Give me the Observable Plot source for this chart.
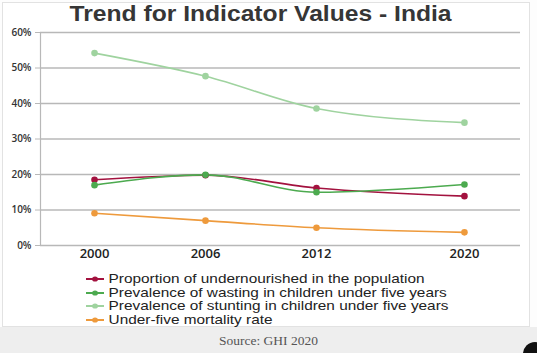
<!DOCTYPE html>
<html><head><meta charset="utf-8">
<script src="https://cdn.jsdelivr.net/npm/d3@7"></script>
<script src="https://cdn.jsdelivr.net/npm/@observablehq/plot@0.6"></script>
<style>
html,body{margin:0;padding:0;background:#fff;}
#wrap{position:relative;width:537px;height:353px;overflow:hidden;background:#fdfdfd;font-family:"Liberation Sans",Arial,sans-serif;}
#frame{position:absolute;left:2px;top:2px;width:526px;height:323px;border:1px solid #e2e2e2;background:#fff;}
#title{position:absolute;left:-8px;width:537px;top:1px;text-align:center;font-weight:bold;font-size:22px;color:#363636;transform:scale(1.12,1);transform-origin:268px 0;}
#plot{position:absolute;left:0;top:0;}
#legend{position:absolute;left:86px;top:272px;font-size:13.6px;color:#222;line-height:13.7px;transform:scale(1.13,1);transform-origin:0 0;}
#legend div{display:flex;align-items:center;white-space:nowrap;}
#legend svg{margin-right:4px;}
#source{position:absolute;left:0;top:327px;width:537px;height:26px;background:#eeeeee;text-align:center;font-family:"Liberation Serif","Times New Roman",serif;font-size:13.5px;color:#555;line-height:27px;}
#blob{position:absolute;left:523px;top:342px;width:24px;height:24px;border-radius:50%;background:#111;}
</style></head>
<body><div id="wrap">
<div id="frame"></div>
<div id="title">Trend for Indicator Values - India</div>
<div id="plot"></div>
<div id="legend"></div>
<div id="source">Source: GHI 2020</div>
<div id="blob"></div>
</div>
<script>
const years = [2000, 2006, 2012, 2020];
const seriesNames = [
  "Proportion of undernourished in the population",
  "Prevalence of wasting in children under five years",
  "Prevalence of stunting in children under five years",
  "Under-five mortality rate"
];
const undernourished = [18.5, 19.8, 16.2, 13.9];
const wasting = [17.0, 19.9, 15.0, 17.2];
const stunting = [54.2, 47.7, 38.6, 34.6];
const mortality = [9.1, 7.0, 5.0, 3.7];
const colors = ["#a3123f", "#4caa4f", "#9fd39f", "#ee9a3c"];
const yTicks = [0, 10, 20, 30, 40, 50, 60];

const allSeries = [undernourished, wasting, stunting, mortality];
const data = [];
allSeries.forEach((vals, i) => vals.forEach((v, j) => data.push({series: seriesNames[i], year: years[j], value: v})));

const chart = Plot.plot({
  width: 537, height: 265,
  marginLeft: 40, marginRight: 17, marginTop: 32, marginBottom: 20,
  style: {background: "transparent", fontFamily: "'Open Sans', sans-serif"},
  x: {domain: [1997.08, 2023.03], ticks: years, tickFormat: d => String(d), label: null, tickSize: 0, tickPadding: 3},
  y: {domain: [0, 60], ticks: yTicks, tickFormat: d => d + "%", label: null, tickSize: 5, tickPadding: 2},
  color: {domain: seriesNames, range: colors},
  marks: [
    Plot.ruleY(yTicks, {stroke: "#b8b8b8", strokeWidth: 1.4, x1: 1997.08, x2: 2023.03}),
    Plot.ruleX([1997.08], {y1: 0, y2: 60, stroke: "#b8b8b8", strokeWidth: 1.2}),
    Plot.axisY({ticks: yTicks, tickFormat: d => d + "%", tickSize: 5, stroke: "#b8b8b8", fontSize: 10, fontWeight: 600, fill: "#333", label: null}),
    Plot.axisX({ticks: years, tickFormat: d => String(d), tickSize: 0, fontSize: 13, fontWeight: 600, fill: "#222", label: null, tickPadding: 3}),
    Plot.line(data, {x: "year", y: "value", z: "series", stroke: "series", strokeWidth: 1.6, curve: "monotone-x"}),
    Plot.dot(data, {x: "year", y: "value", fill: "series", r: 3.3})
  ]
});
document.getElementById("plot").appendChild(chart);

const legend = document.getElementById("legend");
seriesNames.forEach((name, i) => {
  const row = document.createElement("div");
  row.innerHTML = `<svg width="16" height="8"><line x1="0" y1="4" x2="16" y2="4" stroke="${colors[i]}" stroke-width="2"/><circle cx="8" cy="4" r="2.6" fill="${colors[i]}"/></svg><span>${name}</span>`;
  legend.appendChild(row);
});
</script>
</body></html>
